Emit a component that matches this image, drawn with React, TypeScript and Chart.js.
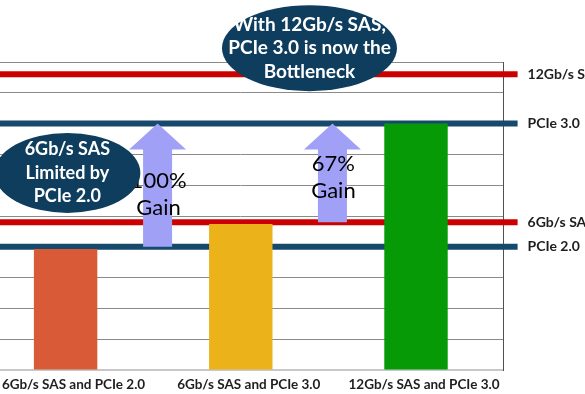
import React, { useEffect, useRef } from "react";
import { Chart, registerables } from "chart.js";

Chart.register(...registerables);

const categories = ["6Gb/s SAS and PCIe 2.0", "6Gb/s SAS and PCIe 3.0", "12Gb/s SAS and PCIe 3.0"];
const throughput = [3.93, 4.74, 8.0];
const barColors = ["#d95a36", "#ecb21a", "#079a07"];

const limitLabels = ["12Gb/s SAS", "PCIe 3.0", "6Gb/s SAS", "PCIe 2.0"];
const limitValues = [9.6, 8.0, 4.8, 4.0];
const limitColors = ["#cc0000", "#164a6c", "#cc0000", "#164a6c"];

// gain arrows: x position (category units), from value, to value, text
const arrowX = [0.525, 1.523];
const arrowFrom = [4.0, 4.8];
const arrowTo = [8.0, 8.0];
const gainTexts = [["100%", "Gain"], ["67%", "Gain"]];
const gainTextY = [5.7, 6.25];

// callouts: center in data units
const calloutX = [0.01, 1.392];
const calloutY = [6.4, 10.45];
const calloutTexts = [
  ["6Gb/s SAS", "Limited by", "PCIe 2.0"],
  ["With 12Gb/s SAS,", "PCIe 3.0 is now the", "Bottleneck"],
];

const FONT = "Lato, 'Open Sans', sans-serif";

const overlayPlugin = {
  id: "overlay",
  beforeDatasetsDraw(chart: any) {
    const { ctx, chartArea, scales } = chart;
    const y = scales.y;
    ctx.save();
    limitValues.forEach((v, i) => {
      const py = y.getPixelForValue(v);
      ctx.strokeStyle = limitColors[i];
      ctx.lineWidth = 6;
      ctx.beginPath();
      ctx.moveTo(chartArea.left, py);
      ctx.lineTo(chartArea.right + 14, py);
      ctx.stroke();
      ctx.fillStyle = "#1e1e1e";
      ctx.font = `bold 14px ${FONT}`;
      ctx.textAlign = "left";
      ctx.textBaseline = "middle";
      ctx.fillText(limitLabels[i], chartArea.right + 24, py);
    });
    ctx.restore();
  },
  afterDatasetsDraw(chart: any) {
    const { ctx, scales } = chart;
    const x = scales.x;
    const y = scales.y;
    ctx.save();
    // arrows
    arrowX.forEach((ax, i) => {
      const cx = x.getPixelForValue(ax);
      const yb = y.getPixelForValue(arrowFrom[i]);
      const yt = y.getPixelForValue(arrowTo[i]);
      const sw = 14.5;
      const hw = 28.5;
      const hl = 26;
      ctx.fillStyle = "#a0a0f6";
      ctx.beginPath();
      ctx.moveTo(cx, yt);
      ctx.lineTo(cx + hw, yt + hl);
      ctx.lineTo(cx + sw, yt + hl);
      ctx.lineTo(cx + sw, yb);
      ctx.lineTo(cx - sw, yb);
      ctx.lineTo(cx - sw, yt + hl);
      ctx.lineTo(cx - hw, yt + hl);
      ctx.closePath();
      ctx.fill();
      // gain text
      const ty = y.getPixelForValue(gainTextY[i]);
      ctx.fillStyle = "#000";
      ctx.font = `22px ${FONT}`;
      ctx.textAlign = "center";
      ctx.textBaseline = "middle";
      const lines = gainTexts[i];
      lines.forEach((t, j) => {
        ctx.fillText(t, cx + 1, ty + (j - (lines.length - 1) / 2) * 27);
      });
    });
    // callouts
    const radii = [
      [73, 40],
      [87.5, 43],
    ];
    const fontSizes = [18, 19];
    calloutX.forEach((cxv, i) => {
      const cx = x.getPixelForValue(cxv);
      const cy = y.getPixelForValue(calloutY[i]);
      ctx.fillStyle = "#0f3d5e";
      ctx.beginPath();
      ctx.ellipse(cx, cy, radii[i][0], radii[i][1], 0, 0, Math.PI * 2);
      ctx.fill();
      ctx.fillStyle = "#ffffff";
      ctx.font = `bold ${fontSizes[i]}px ${FONT}`;
      ctx.textAlign = "center";
      ctx.textBaseline = "middle";
      const lines = calloutTexts[i];
      lines.forEach((t, j) => {
        ctx.fillText(t, cx, cy + (j - 1) * 23.5);
      });
    });
    ctx.restore();
  },
};

export default function App() {
  const ref = useRef<HTMLCanvasElement | null>(null);
  useEffect(() => {
    if (!ref.current) return;
    const chart = new Chart(ref.current, {
      type: "bar",
      data: {
        labels: categories,
        datasets: [
          {
            data: throughput,
            backgroundColor: barColors,
            borderWidth: 0,
            categoryPercentage: 1,
            barPercentage: 0.362,
          },
        ],
      },
      options: {
        responsive: false,
        animation: false,
        events: [],
        layout: { padding: { left: 18, right: 81.4, top: 62, bottom: 0 } },
        plugins: { legend: { display: false }, tooltip: { enabled: false }, title: { display: false } },
        scales: {
          x: {
            grid: { display: false, drawTicks: false },
            border: { display: true, color: "#c8c8c8", width: 2 },
            ticks: {
              padding: 7,
              labelOffset: 8,
              color: "#1e1e1e",
              font: { family: FONT, size: 13.5, weight: "bold" },
              maxRotation: 0,
              autoSkip: false,
            },
            afterFit: (s: any) => {
              s.height = 24;
            },
          },
          y: {
            position: "right",
            min: 0,
            max: 10,
            ticks: { display: false, stepSize: 1 },
            grid: { color: "#8a8a8a", lineWidth: 1, drawTicks: false },
            border: { display: true, color: "#505050", width: 1 },
            afterFit: (s: any) => {
              s.width = 0;
            },
          },
        },
      },
      plugins: [overlayPlugin],
    });
    return () => chart.destroy();
  }, []);
  return (
    <div style={{ position: "absolute", left: -40, top: 0, width: 625, height: 394, background: "#fff" }}>
      <canvas ref={ref} width={625} height={394} />
    </div>
  );
}
